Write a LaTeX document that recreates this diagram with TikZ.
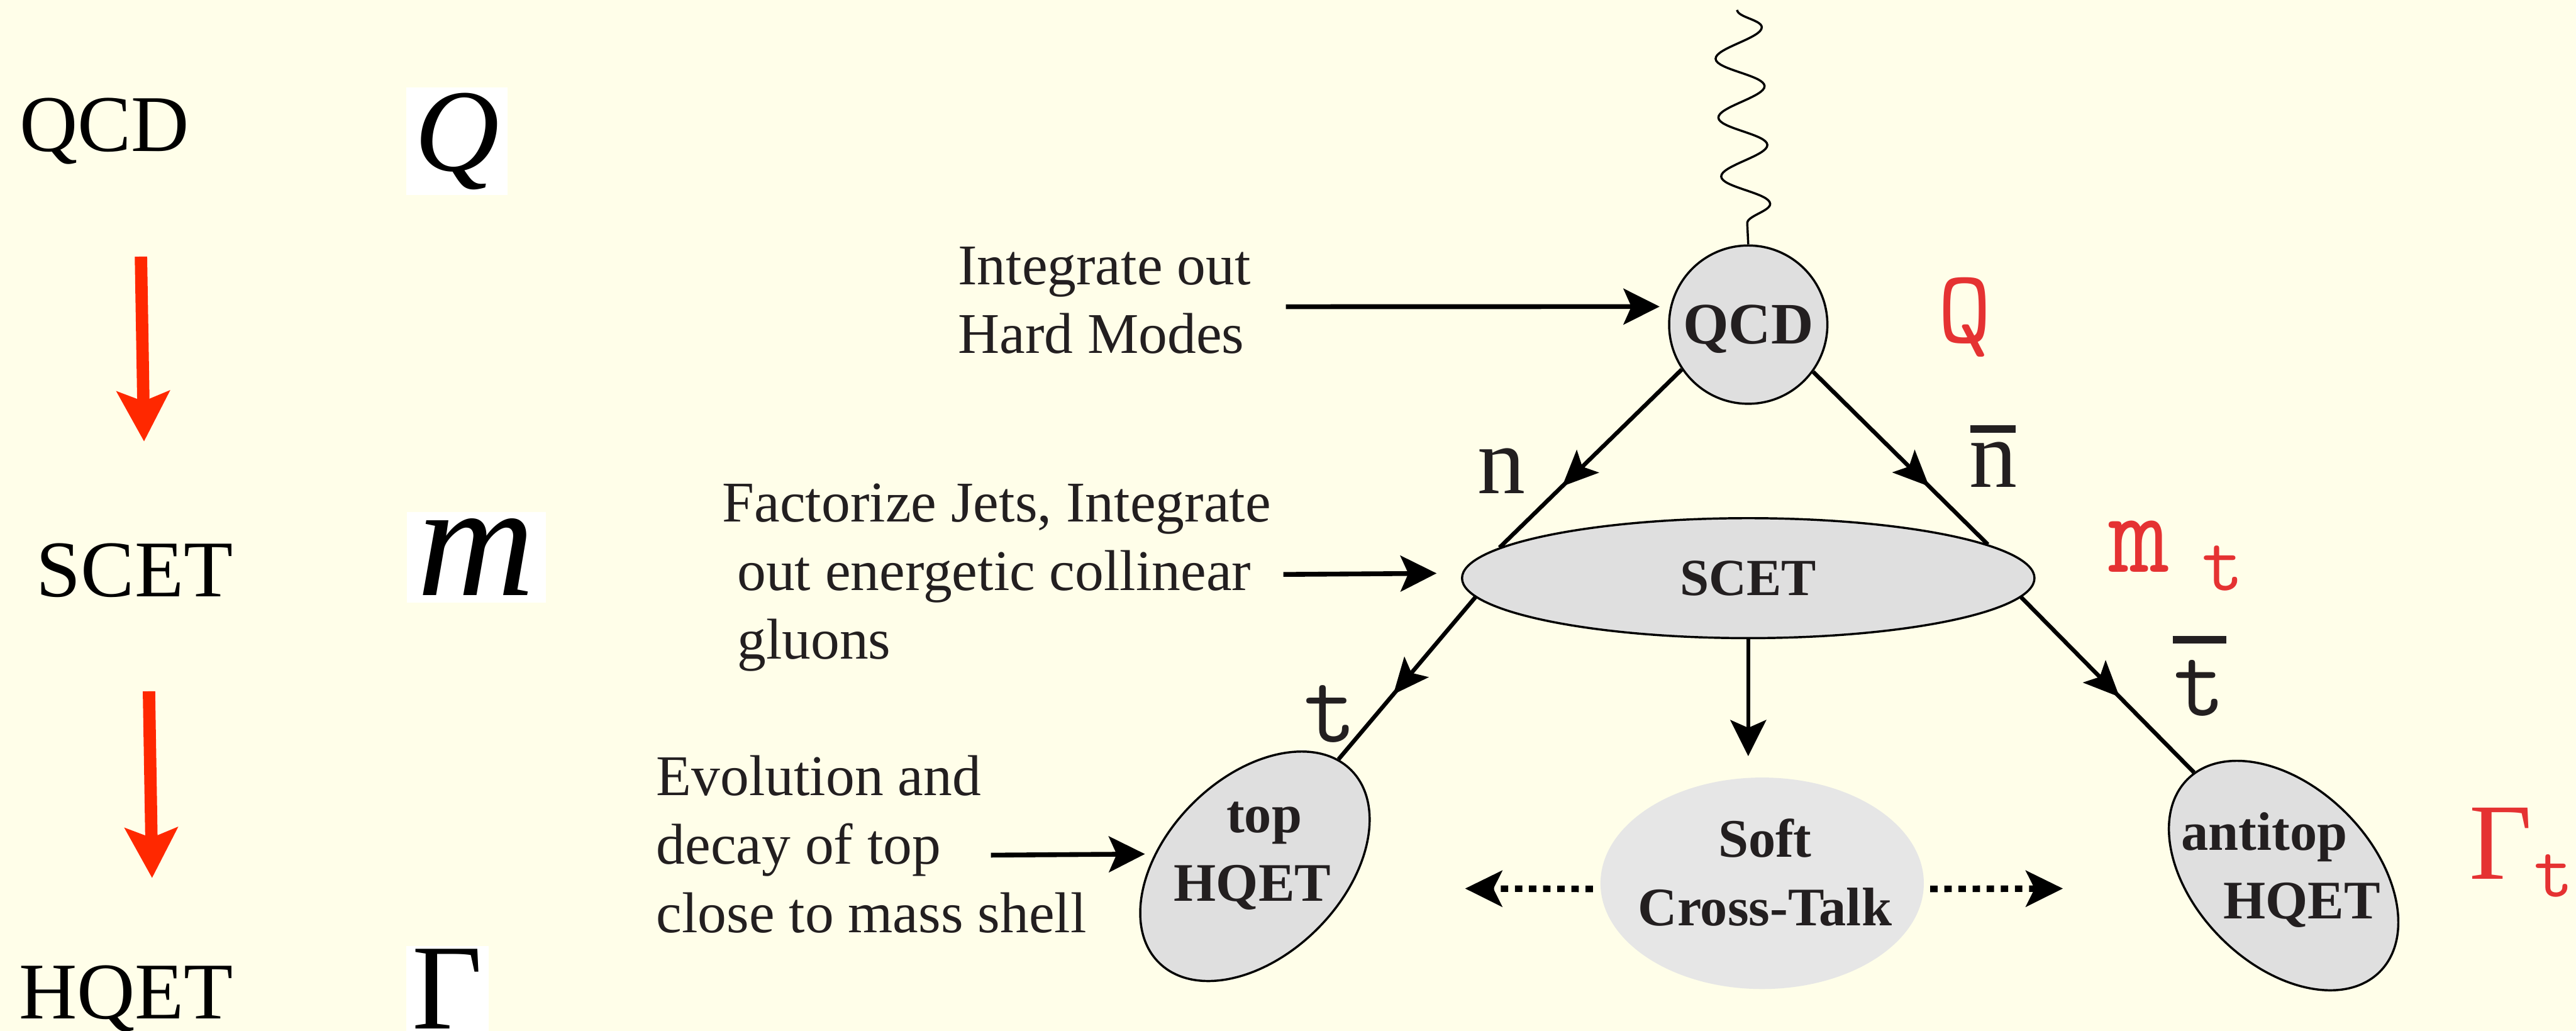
\documentclass[tikz,border=0pt]{standalone}
\usepackage{fontspec}
\setmainfont{Liberation Serif}
\usetikzlibrary{shapes.geometric,arrows.meta,decorations.pathmorphing,decorations.markings}

\definecolor{bgcream}{RGB}{255,254,233}
\definecolor{ink}{RGB}{35,31,32}
\definecolor{blobgray}{RGB}{223,223,223}
\definecolor{softgray}{RGB}{230,230,230}
\definecolor{scalered}{RGB}{229,50,50}
\definecolor{flowred}{RGB}{255,40,0}

% letter with a heavy bar on top: letter, bar width, gap
\newcommand{\barlbl}[3]{%
  \vbox{\offinterlineskip\halign{\hfil##\hfil\cr
    \vrule width #2 height 3.5pt depth 0pt\cr
    \noalign{\kern #3}
    #1\cr}}}

\tikzset{
  scalename/.style={inner sep=0pt, font=\fontsize{37}{42}\selectfont},
  scalebox/.style={fill=white},
  flow/.style={flowred, line width=5.7pt, -{Stealth[length=23pt,width=24pt,inset=4.5pt]}},
  blob/.style={ellipse, draw=black, line width=1pt, fill=blobgray, inner sep=0pt},
  blobtxt/.style={inner sep=0pt, text=ink, font=\bfseries\fontsize{25}{31.5}\selectfont},
  note/.style={align=left, inner sep=0pt, text=ink, font=\fontsize{26.5}{31.5}\selectfont},
  leg/.style={line width=1.9pt},
  midarrow/.style={postaction={decorate, decoration={markings,
      mark=at position #1 with {\arrow{Stealth[length=16.5pt,width=14.5pt,inset=3.5pt]}}}}},
  feed/.style={line width=2.2pt, -{Stealth[length=16.6pt,width=16.5pt,inset=3.6pt]}},
  crosstalk/.style={line width=3pt, dash pattern=on 3.4pt off 3.1pt,
      -{Stealth[length=17pt,width=16.5pt,inset=4pt]}},
  gluon/.style={line width=1pt, decorate,
      decoration={snake, segment length=0.953cm, amplitude=0.385cm}},
  leglbl/.style={anchor=base, inner sep=0pt, text=ink, font=\fontsize{44}{48}\selectfont},
  redlbl/.style={anchor=base, inner sep=0pt, text=scalered, font=\ttfamily\fontsize{48}{55}\selectfont}
}

\begin{document}
\begin{tikzpicture}
  \fill[bgcream] (0,0) rectangle (41.67,-16.67);
  \useasboundingbox (0,0) rectangle (41.67,-16.67);

  % scale column
  \node[scalename, anchor=base west] (qcdname) at (0.31,-2.45) {QCD};
  \node[scalename, anchor=base west] (scetname) at (0.58,-9.65) {SCET};
  \node[scalename, anchor=base west] (hqetname) at (0.30,-16.48) {HQET};
  \node[scalebox, font=\itshape\fontsize{54}{60}\selectfont, inner xsep=0.135cm, inner ysep=0.085cm] (qscale) at (7.39,-2.285) {Q};
  \node[scalebox, font=\itshape\fontsize{75}{80}\selectfont, inner xsep=0.17cm, inner ysep=0.11cm] (mscale) at (7.705,-9.01) {m};
  \node[scalebox, anchor=north, font=\fontsize{56}{60}\selectfont, inner xsep=0.1cm, inner ysep=0.05cm] (gscale) at (7.24,-15.29) {Γ};
  \coordinate (flowa) at (2.28,-4.15);
  \coordinate (flowb) at (2.33,-7.14);
  \coordinate (flowc) at (2.41,-11.18);
  \coordinate (flowd) at (2.46,-14.20);
  \draw[flow] (flowa) -- (flowb);
  \draw[flow] (flowc) -- (flowd);

  % effective theories
  \node[blob, circle, minimum size=2.56cm, text=ink, font=\bfseries\fontsize{27}{30}\selectfont, text depth=0pt] (qcd) at (28.28,-5.25) {QCD};
  \node[blob, minimum width=9.26cm, minimum height=1.94cm, text=ink, font=\bfseries\fontsize{24}{28}\selectfont, text depth=0pt] (scet) at (28.28,-9.35) {SCET};
  \node[blob, rotate=45, minimum width=4.40cm, minimum height=2.86cm] (tophqet) at (20.30,-14.01) {};
  \node[blobtxt, align=center] (toplbl) at (20.26,-13.84) {\hspace*{0.38cm}top\\HQET};
  \node[blob, rotate=-45, minimum width=4.40cm, minimum height=2.86cm] (antihqet) at (36.94,-14.16) {};
  \node[blobtxt, align=left, anchor=west] (antilbl) at (35.28,-14.07) {antitop\\\hspace*{0.68cm}HQET};
  \node[ellipse, fill=softgray, minimum width=5.23cm, minimum height=3.42cm, inner sep=0pt] (soft) at (28.505,-14.285) {};
  \node[blobtxt, align=center] (softlbl) at (28.55,-14.11) {Soft\\Cross-Talk};

  % hard photon
  \coordinate (photon) at (28.10,-0.16);
  \draw[gluon] (photon) -- (qcd.north);

  % jets and heavy quarks
  \draw[leg, midarrow=0.657] (qcd.214) -- (scet.173);
  \draw[leg, midarrow=0.665] (qcd.-36) -- (scet.8);
  \draw[leg, midarrow=0.60] (scet.184) -- (tophqet.7);
  \draw[leg, midarrow=0.57] (scet.-4) -- (antihqet.176);
  \draw[feed, line width=1.7pt, shorten >=0.34cm] (scet.south) -- (scet.south |- soft.north);
  \coordinate (ctleft) at (23.70,-14.37);
  \coordinate (ctright) at (33.37,-14.37);
  \draw[crosstalk, shorten <=0.12cm] (soft.182) -- (ctleft);
  \draw[crosstalk, shorten <=0.1cm] (soft.-2) -- (ctright);

  % what each step does
  \node[note, anchor=west] (hardnote) at (15.49,-4.86) {Integrate out\\Hard Modes};
  \node[note, anchor=west] (jetnote) at (11.68,-9.34) {Factorize Jets, Integrate\\\hspace*{0.24cm}out energetic collinear\\\hspace*{0.24cm}gluons};
  \node[note, anchor=west] (topnote) at (10.61,-13.655) {Evolution and\\decay of top\\close to mass shell};
  \coordinate (hardtail) at (20.80,-4.96);
  \coordinate (jettail) at (20.76,-9.29);
  \coordinate (toptail) at (16.03,-13.83);
  \draw[feed, shorten >=0.17cm] (hardtail) -- (qcd.167);
  \draw[feed, shorten >=0.41cm] (jettail) -- (scet.179);
  \draw[feed, shorten >=0.155cm] (toptail) -- (tophqet.128.6);

  % leg labels
  \node[leglbl] (nlbl) at (24.29,-7.98) {n};
  \node[leglbl] (nbarlbl) at (32.24,-7.88) {\barlbl{n}{21pt}{4.3pt}};
  \node[leglbl, font=\ttfamily\fontsize{47}{50}\selectfont] (tlbl) at (21.52,-12.00) {t};
  \node[leglbl, font=\ttfamily\fontsize{46}{50}\selectfont] (tbarlbl) at (35.58,-11.57) {\barlbl{t}{24.7pt}{7.7pt}};

  % scales
  \node[redlbl] (qred) at (31.78,-5.54) {Q};
  \node[redlbl, anchor=base west, font=\ttfamily\fontsize{54}{60}\selectfont] (mred) at (34.11,-9.25) {m\hspace{15pt}\raisebox{-8.5pt}{\fontsize{37}{40}\selectfont t}};
  \node[redlbl, anchor=base west, font=\fontsize{50}{55}\selectfont] (gred) at (39.94,-14.22) {Γ\hspace{1pt}\raisebox{-8pt}{\ttfamily\fontsize{35}{38}\selectfont t}};
\end{tikzpicture}
\end{document}
